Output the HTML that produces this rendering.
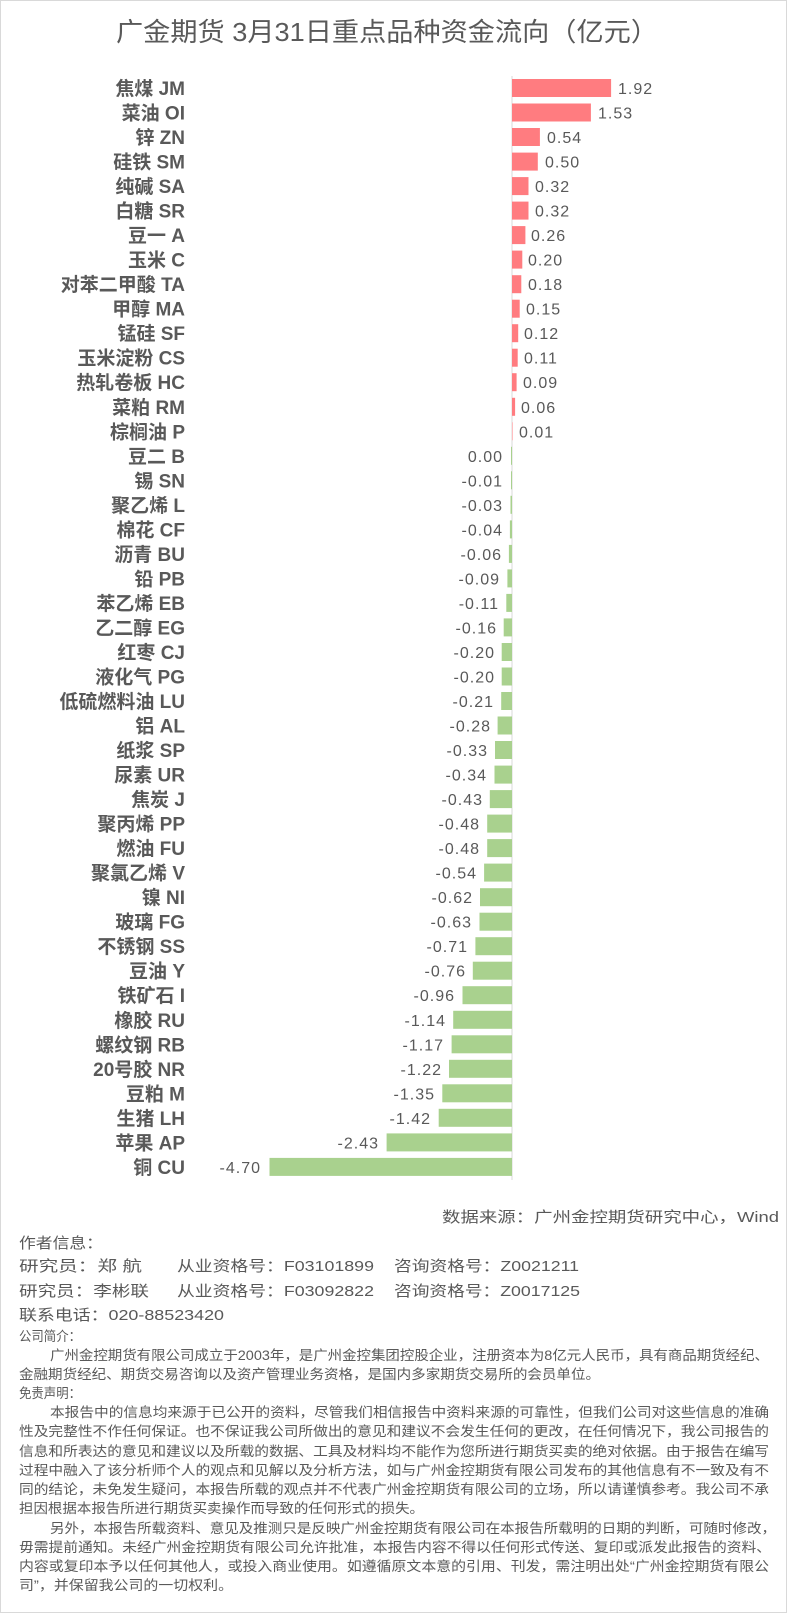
<!DOCTYPE html>
<html><head><meta charset="utf-8"><style>
html,body{margin:0;padding:0;background:#fff;}
svg{display:block;}
text{font-family:"Liberation Sans","Noto Sans CJK SC",sans-serif;fill:#595959;}
.lb{font-size:19px;font-weight:bold;text-anchor:end;}
.v{font-size:16px;letter-spacing:1px;}
.n{font-size:16px;letter-spacing:1px;text-anchor:end;}
.p{fill:#ff7c80;}
.g{fill:#a9d18e;}
.s{font-size:15px;}
.d{font-size:13.5px;}
</style></head><body>
<svg width="788" height="1616" viewBox="0 0 788 1616" xmlns="http://www.w3.org/2000/svg">
<rect x="0.5" y="0.5" width="786" height="1612" fill="#fff" stroke="#d9d9d9"/>
<text x="387" y="41" text-anchor="middle" style="font-size:26px" textLength="542" lengthAdjust="spacingAndGlyphs">广金期货 3月31日重点品种资金流向（亿元）</text>
<line x1="512" y1="76" x2="512" y2="1180" stroke="#d9d9d9"/>

<g transform="translate(0,79)"><text class="lb" x="185" y="16">焦煤 JM</text><rect class="p" x="512" y="0" width="99.1" height="18"/><text class="v" x="618" y="15">1.92</text></g>
<g transform="translate(0,103.5)"><text class="lb" x="185" y="16">菜油 OI</text><rect class="p" x="512" y="0" width="78.9" height="18"/><text class="v" x="598" y="15">1.53</text></g>
<g transform="translate(0,128)"><text class="lb" x="185" y="16">锌 ZN</text><rect class="p" x="512" y="0" width="27.9" height="18"/><text class="v" x="547" y="15">0.54</text></g>
<g transform="translate(0,152.6)"><text class="lb" x="185" y="16">硅铁 SM</text><rect class="p" x="512" y="0" width="25.8" height="18"/><text class="v" x="545" y="15">0.50</text></g>
<g transform="translate(0,177.1)"><text class="lb" x="185" y="16">纯碱  SA</text><rect class="p" x="512" y="0" width="16.5" height="18"/><text class="v" x="535" y="15">0.32</text></g>
<g transform="translate(0,201.6)"><text class="lb" x="185" y="16">白糖 SR</text><rect class="p" x="512" y="0" width="16.5" height="18"/><text class="v" x="535" y="15">0.32</text></g>
<g transform="translate(0,226.1)"><text class="lb" x="185" y="16">豆一 A</text><rect class="p" x="512" y="0" width="13.4" height="18"/><text class="v" x="531" y="15">0.26</text></g>
<g transform="translate(0,250.6)"><text class="lb" x="185" y="16">玉米 C</text><rect class="p" x="512" y="0" width="10.3" height="18"/><text class="v" x="528" y="15">0.20</text></g>
<g transform="translate(0,275.2)"><text class="lb" x="185" y="16">对苯二甲酸 TA</text><rect class="p" x="512" y="0" width="9.3" height="18"/><text class="v" x="528" y="15">0.18</text></g>
<g transform="translate(0,299.7)"><text class="lb" x="185" y="16">甲醇 MA</text><rect class="p" x="512" y="0" width="7.7" height="18"/><text class="v" x="526" y="15">0.15</text></g>
<g transform="translate(0,324.2)"><text class="lb" x="185" y="16">锰硅 SF</text><rect class="p" x="512" y="0" width="6.2" height="18"/><text class="v" x="524" y="15">0.12</text></g>
<g transform="translate(0,348.7)"><text class="lb" x="185" y="16">玉米淀粉 CS</text><rect class="p" x="512" y="0" width="5.7" height="18"/><text class="v" x="524" y="15">0.11</text></g>
<g transform="translate(0,373.2)"><text class="lb" x="185" y="16">热轧卷板 HC</text><rect class="p" x="512" y="0" width="4.6" height="18"/><text class="v" x="523" y="15">0.09</text></g>
<g transform="translate(0,397.8)"><text class="lb" x="185" y="16">菜粕 RM</text><rect class="p" x="512" y="0" width="3.1" height="18"/><text class="v" x="521" y="15">0.06</text></g>
<g transform="translate(0,422.3)"><text class="lb" x="185" y="16">棕榈油 P</text><rect class="p" x="512" y="0" width="0.5" height="18"/><text class="v" x="519" y="15">0.01</text></g>
<g transform="translate(0,446.8)"><text class="lb" x="185" y="16">豆二 B</text><rect class="g" x="511" y="0" width="1" height="18"/><text class="n" x="503" y="15">0.00</text></g>
<g transform="translate(0,471.3)"><text class="lb" x="185" y="16">锡 SN</text><rect class="g" x="511" y="0" width="1" height="18"/><text class="n" x="503" y="15">-0.01</text></g>
<g transform="translate(0,495.8)"><text class="lb" x="185" y="16">聚乙烯 L</text><rect class="g" x="510.5" y="0" width="1.5" height="18"/><text class="n" x="503" y="15">-0.03</text></g>
<g transform="translate(0,520.4)"><text class="lb" x="185" y="16">棉花 CF</text><rect class="g" x="509.9" y="0" width="2.1" height="18"/><text class="n" x="503" y="15">-0.04</text></g>
<g transform="translate(0,544.9)"><text class="lb" x="185" y="16">沥青 BU</text><rect class="g" x="508.9" y="0" width="3.1" height="18"/><text class="n" x="502" y="15">-0.06</text></g>
<g transform="translate(0,569.4)"><text class="lb" x="185" y="16">铅 PB</text><rect class="g" x="507.4" y="0" width="4.6" height="18"/><text class="n" x="500" y="15">-0.09</text></g>
<g transform="translate(0,593.9)"><text class="lb" x="185" y="16">苯乙烯 EB</text><rect class="g" x="506.3" y="0" width="5.7" height="18"/><text class="n" x="499" y="15">-0.11</text></g>
<g transform="translate(0,618.4)"><text class="lb" x="185" y="16">乙二醇 EG</text><rect class="g" x="503.7" y="0" width="8.3" height="18"/><text class="n" x="497" y="15">-0.16</text></g>
<g transform="translate(0,643)"><text class="lb" x="185" y="16">红枣 CJ</text><rect class="g" x="501.7" y="0" width="10.3" height="18"/><text class="n" x="495" y="15">-0.20</text></g>
<g transform="translate(0,667.5)"><text class="lb" x="185" y="16">液化气 PG</text><rect class="g" x="501.7" y="0" width="10.3" height="18"/><text class="n" x="495" y="15">-0.20</text></g>
<g transform="translate(0,692)"><text class="lb" x="185" y="16">低硫燃料油 LU</text><rect class="g" x="501.2" y="0" width="10.8" height="18"/><text class="n" x="494" y="15">-0.21</text></g>
<g transform="translate(0,716.5)"><text class="lb" x="185" y="16">铝 AL</text><rect class="g" x="497.6" y="0" width="14.4" height="18"/><text class="n" x="491" y="15">-0.28</text></g>
<g transform="translate(0,741)"><text class="lb" x="185" y="16">纸浆 SP</text><rect class="g" x="495" y="0" width="17" height="18"/><text class="n" x="488" y="15">-0.33</text></g>
<g transform="translate(0,765.6)"><text class="lb" x="185" y="16">尿素 UR</text><rect class="g" x="494.5" y="0" width="17.5" height="18"/><text class="n" x="487" y="15">-0.34</text></g>
<g transform="translate(0,790.1)"><text class="lb" x="185" y="16">焦炭 J</text><rect class="g" x="489.8" y="0" width="22.2" height="18"/><text class="n" x="483" y="15">-0.43</text></g>
<g transform="translate(0,814.6)"><text class="lb" x="185" y="16">聚丙烯 PP</text><rect class="g" x="487.2" y="0" width="24.8" height="18"/><text class="n" x="480" y="15">-0.48</text></g>
<g transform="translate(0,839.1)"><text class="lb" x="185" y="16">燃油 FU</text><rect class="g" x="487.2" y="0" width="24.8" height="18"/><text class="n" x="480" y="15">-0.48</text></g>
<g transform="translate(0,863.6)"><text class="lb" x="185" y="16">聚氯乙烯 V</text><rect class="g" x="484.1" y="0" width="27.9" height="18"/><text class="n" x="477" y="15">-0.54</text></g>
<g transform="translate(0,888.2)"><text class="lb" x="185" y="16">镍 NI</text><rect class="g" x="480" y="0" width="32" height="18"/><text class="n" x="473" y="15">-0.62</text></g>
<g transform="translate(0,912.7)"><text class="lb" x="185" y="16">玻璃 FG</text><rect class="g" x="479.5" y="0" width="32.5" height="18"/><text class="n" x="472" y="15">-0.63</text></g>
<g transform="translate(0,937.2)"><text class="lb" x="185" y="16">不锈钢 SS</text><rect class="g" x="475.4" y="0" width="36.6" height="18"/><text class="n" x="468" y="15">-0.71</text></g>
<g transform="translate(0,961.7)"><text class="lb" x="185" y="16">豆油 Y</text><rect class="g" x="472.8" y="0" width="39.2" height="18"/><text class="n" x="466" y="15">-0.76</text></g>
<g transform="translate(0,986.2)"><text class="lb" x="185" y="16">铁矿石 I</text><rect class="g" x="462.5" y="0" width="49.5" height="18"/><text class="n" x="455" y="15">-0.96</text></g>
<g transform="translate(0,1010.8)"><text class="lb" x="185" y="16">橡胶 RU</text><rect class="g" x="453.2" y="0" width="58.8" height="18"/><text class="n" x="446" y="15">-1.14</text></g>
<g transform="translate(0,1035.3)"><text class="lb" x="185" y="16">螺纹钢 RB</text><rect class="g" x="451.6" y="0" width="60.4" height="18"/><text class="n" x="444" y="15">-1.17</text></g>
<g transform="translate(0,1059.8)"><text class="lb" x="185" y="16">20号胶 NR</text><rect class="g" x="449" y="0" width="63" height="18"/><text class="n" x="442" y="15">-1.22</text></g>
<g transform="translate(0,1084.3)"><text class="lb" x="185" y="16">豆粕 M</text><rect class="g" x="442.3" y="0" width="69.7" height="18"/><text class="n" x="435" y="15">-1.35</text></g>
<g transform="translate(0,1108.8)"><text class="lb" x="185" y="16">生猪 LH</text><rect class="g" x="438.7" y="0" width="73.3" height="18"/><text class="n" x="431" y="15">-1.42</text></g>
<g transform="translate(0,1133.4)"><text class="lb" x="185" y="16">苹果 AP</text><rect class="g" x="386.6" y="0" width="125.4" height="18"/><text class="n" x="379" y="15">-2.43</text></g>
<g transform="translate(0,1157.9)"><text class="lb" x="185" y="16">铜 CU</text><rect class="g" x="269.5" y="0" width="242.5" height="18"/><text class="n" x="261" y="15">-4.70</text></g>

<text class="s" x="779" y="1222" text-anchor="end" textLength="337" lengthAdjust="spacingAndGlyphs">数据来源：广州金控期货研究中心，Wind</text>
<text class="s" x="19" y="1248" textLength="84" lengthAdjust="spacingAndGlyphs">作者信息：</text>
<text class="s" x="19" y="1271" textLength="123" lengthAdjust="spacingAndGlyphs">研究员：郑 航</text>
<text class="s" x="177" y="1271" textLength="197" lengthAdjust="spacingAndGlyphs">从业资格号：F03101899</text>
<text class="s" x="394" y="1271" textLength="185" lengthAdjust="spacingAndGlyphs">咨询资格号：Z0021211</text>
<text class="s" x="19" y="1296" textLength="130" lengthAdjust="spacingAndGlyphs">研究员：李彬联</text>
<text class="s" x="177" y="1296" textLength="197" lengthAdjust="spacingAndGlyphs">从业资格号：F03092822</text>
<text class="s" x="394" y="1296" textLength="186" lengthAdjust="spacingAndGlyphs">咨询资格号：Z0017125</text>
<text class="s" x="19" y="1320" textLength="205" lengthAdjust="spacingAndGlyphs">联系电话：020-88523420</text>

<text class="d" x="19" y="1341" textLength="62" lengthAdjust="spacingAndGlyphs">公司简介：</text>
<text class="d" x="50" y="1360" textLength="719" lengthAdjust="spacingAndGlyphs">广州金控期货有限公司成立于2003年，是广州金控集团控股企业，注册资本为8亿元人民币，具有商品期货经纪、</text>
<text class="d" x="19" y="1379" textLength="581" lengthAdjust="spacingAndGlyphs">金融期货经纪、期货交易咨询以及资产管理业务资格，是国内多家期货交易所的会员单位。</text>
<text class="d" x="19" y="1398" textLength="62" lengthAdjust="spacingAndGlyphs">免责声明：</text>
<text class="d" x="50" y="1417" textLength="719" lengthAdjust="spacingAndGlyphs">本报告中的信息均来源于已公开的资料，尽管我们相信报告中资料来源的可靠性，但我们公司对这些信息的准确</text>
<text class="d" x="19" y="1436" textLength="750" lengthAdjust="spacingAndGlyphs">性及完整性不作任何保证。也不保证我公司所做出的意见和建议不会发生任何的更改，在任何情况下，我公司报告的</text>
<text class="d" x="19" y="1456" textLength="750" lengthAdjust="spacingAndGlyphs">信息和所表达的意见和建议以及所载的数据、工具及材料均不能作为您所进行期货买卖的绝对依据。由于报告在编写</text>
<text class="d" x="19" y="1475" textLength="750" lengthAdjust="spacingAndGlyphs">过程中融入了该分析师个人的观点和见解以及分析方法，如与广州金控期货有限公司发布的其他信息有不一致及有不</text>
<text class="d" x="19" y="1494" textLength="750" lengthAdjust="spacingAndGlyphs">同的结论，未免发生疑问，本报告所载的观点并不代表广州金控期货有限公司的立场，所以请谨慎参考。我公司不承</text>
<text class="d" x="19" y="1513" textLength="405" lengthAdjust="spacingAndGlyphs">担因根据本报告所进行期货买卖操作而导致的任何形式的损失。</text>
<text class="d" x="50" y="1533" textLength="726" lengthAdjust="spacingAndGlyphs">另外，本报告所载资料、意见及推测只是反映广州金控期货有限公司在本报告所载明的日期的判断，可随时修改，</text>
<text class="d" x="19" y="1552" textLength="752" lengthAdjust="spacingAndGlyphs">毋需提前通知。未经广州金控期货有限公司允许批准，本报告内容不得以任何形式传送、复印或派发此报告的资料、</text>
<text class="d" x="19" y="1571" textLength="750" lengthAdjust="spacingAndGlyphs">内容或复印本予以任何其他人，或投入商业使用。如遵循原文本意的引用、刊发，需注明出处“广州金控期货有限公</text>
<text class="d" x="19" y="1590" textLength="214" lengthAdjust="spacingAndGlyphs">司”，并保留我公司的一切权利。</text>
</svg>
</body></html>
